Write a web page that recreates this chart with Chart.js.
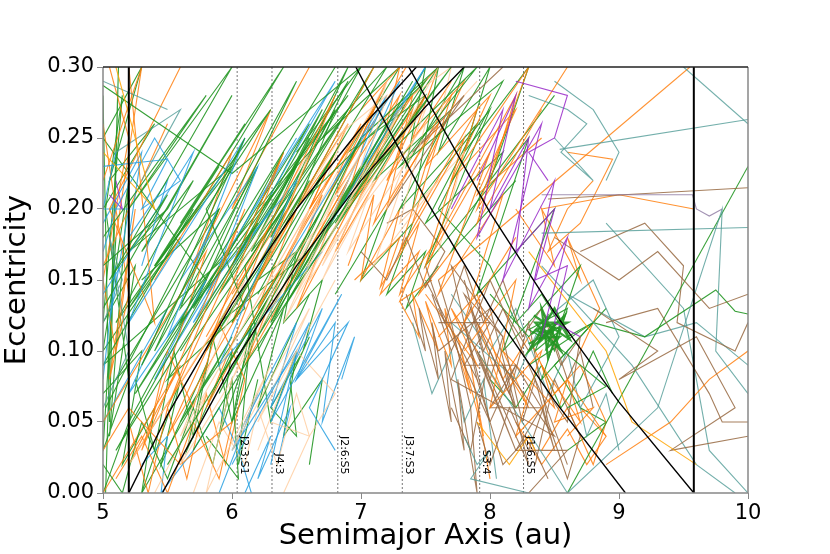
<!DOCTYPE html>
<html><head><meta charset="utf-8">
<script src="https://cdn.jsdelivr.net/npm/chart.js@4.4.0/dist/chart.umd.min.js"></script>
<style>html,body{margin:0;padding:0;background:#fff}#wrap{width:830px;height:554px}</style>
</head><body><div id="wrap"><canvas id="c"></canvas></div>
<script>
// ---- data ----
const xTicks = [5, 6, 7, 8, 9, 10];
const yTicks = [0, 0.05, 0.10, 0.15, 0.20, 0.25, 0.30];
const resNames = ['J2:3:S1', 'J4:3', 'J2:6:S5', 'J3:7:S3', 'S3:4', 'J1:6:S5'];
const resA = [6.04, 6.31, 6.82, 7.32, 7.92, 8.26];
const planetA = [5.2, 9.58];
const qJup = [[5.2,0],[5.5,0.055],[6,0.133],[6.5,0.2],[7,0.257],[7.43,0.3]];
const qJup2 = [[5.46,0],[6,0.09],[6.5,0.16],[7,0.22],[7.5,0.272],[7.8,0.3]];
const QSat = [[6.96,0.3],[7.5,0.207],[8,0.131],[8.5,0.065],[9.05,0]];
const QSat2 = [[7.37,0.3],[8,0.1975],[8.5,0.127],[9,0.064],[9.58,0]];

const green1 = [[5.02,0.06],[6.1,0.25],[5.3,0.09],[6.5,0.29],[5.6,0.12],[6.2,0.19],[5.1,0.03],[5.9,0.16],[5.25,0.07],[6.8,0.3]];
const green2 = [[5.5,0.02],[6.3,0.14],[5.9,0.07],[7.0,0.25],[6.3,0.12],[7.4,0.29],[6.7,0.18],[7.7,0.3],[6.9,0.2],[6.1,0.09],[5.7,0.03]];
const green3 = [[5.0,0.18],[5.8,0.28],[5.2,0.2],[6.0,0.3],[5.05,0.15],[5.5,0.21],[5.0,0.13]];
const green4 = [[5.0,0.287],[6.0,0.225],[6.6,0.27],[7.0,0.3]];
const green5 = [[6.2,0.2],[6.9,0.28],[6.4,0.22],[7.2,0.3],[6.6,0.21],[7.5,0.29],[7.0,0.22],[7.9,0.3],[7.3,0.23],[8.1,0.29],[7.6,0.2]];
const green6 = [[8.0,0.14],[8.3,0.11],[8.45,0.125],[8.35,0.1],[8.55,0.115],[8.4,0.12],[8.5,0.1],[8.6,0.13],[8.3,0.115],[8.5,0.105],[8.7,0.09],[8.9,0.075],[8.6,0.06]];
const green6b = [[8.32,0.112],[8.42,0.118],[8.38,0.106],[8.48,0.114],[8.44,0.102],[8.54,0.11],[8.4,0.109],[8.52,0.12],[8.36,0.115],[8.46,0.108],[8.5,0.116],[8.41,0.113]];
const green6c = [[8.3,0.105],[8.6,0.12],[8.35,0.12],[8.55,0.1],[8.4,0.13],[8.45,0.095],[8.58,0.125],[8.3,0.1],[8.5,0.13],[8.62,0.108],[8.34,0.125]];
const green7 = [[5.0,0.02],[5.15,0.0],[5.3,0.05],[5.5,0.01],[5.7,0.06],[5.85,0.02],[6.0,0.08],[6.05,0.01],[5.8,0.04]];
const green8 = [[8.6,0.0],[10.0,0.23]];
const green10 = [[5.0,0.16],[5.5,0.2],[5.2,0.17],[6.0,0.23],[5.4,0.16],[6.3,0.27],[5.8,0.2],[6.1,0.13],[5.5,0.08],[6.4,0.2],[5.9,0.12],[6.6,0.17],[6.2,0.1]];
const green11 = [[8.3,0.09],[8.8,0.12],[9.2,0.11],[9.75,0.143],[9.9,0.128],[10,0.126]];
const green13 = [[7.0,0.25],[7.6,0.3],[7.4,0.2],[8.0,0.27],[7.5,0.16],[8.3,0.25],[7.9,0.14],[8.5,0.2],[8.1,0.1],[8.7,0.16],[8.4,0.08],[8.9,0.13]];
const green14 = [[5.6,0.1],[6.5,0.23],[5.9,0.14],[6.9,0.27],[6.1,0.16],[6.3,0.05],[6.5,0.1],[6.4,0.04],[6.7,0.08],[6.6,0.02]];
const green15 = [[5.3,0.15],[5.9,0.2],[5.6,0.13],[6.4,0.22],[6.0,0.17],[5.0,0.09],[5.7,0.2]];
const green16 = [[5.02,0.0],[5.12,0.3],[5.05,0.05],[5.0,0.28]];
const greenA = [[5.1,0.08],[5.9,0.2],[5.4,0.1],[6.2,0.23],[5.7,0.13],[6.6,0.26],[6.0,0.16],[6.9,0.29],[6.3,0.18],[7.1,0.3],[6.5,0.2],[5.8,0.1],[6.6,0.22],[6.0,0.12],[6.8,0.24],[6.2,0.14]];
const greenB = [[5.3,0.0],[6.0,0.11],[5.6,0.05],[6.4,0.16],[5.9,0.08],[6.7,0.2],[6.2,0.11],[7.0,0.23],[6.5,0.15],[7.3,0.27],[6.8,0.19],[7.6,0.3],[7.1,0.23],[6.4,0.13],[7.2,0.26]];
const greenC = [[5.0,0.1],[5.6,0.18],[5.2,0.13],[5.9,0.23],[5.4,0.16],[6.1,0.26],[5.6,0.19],[6.4,0.3],[5.8,0.21],[5.1,0.12],[5.7,0.22],[5.3,0.17],[6.0,0.28],[5.5,0.2]];
const greenD = [[6.5,0.24],[7.0,0.3],[6.7,0.25],[7.3,0.3],[6.9,0.24],[7.5,0.28],[7.1,0.22],[7.7,0.27],[7.3,0.2],[7.9,0.26],[7.5,0.19],[8.1,0.24],[7.7,0.17],[8.2,0.22]];
const greenE = [[5.0,0.2],[5.4,0.26],[5.05,0.22],[5.3,0.3],[5.0,0.25],[5.8,0.15],[5.2,0.05],[5.0,0.0]];
const greenF = [[5.0,0.07],[5.3,0.1],[5.15,0.02],[5.4,0.06],[5.3,0.0],[5.6,0.08],[5.45,0.02],[5.8,0.09],[5.65,0.03],[6.0,0.1],[5.9,0.04],[6.2,0.12],[6.0,0.05],[6.4,0.13],[6.2,0.06],[6.6,0.14]];
const greenG = [[6.2,0.15],[6.5,0.17],[6.4,0.12],[6.7,0.15],[6.55,0.1],[6.3,0.06],[6.5,0.04],[6.45,0.08],[6.6,0.11]];
const greenH = [[7.6,0.2],[8.0,0.16],[8.2,0.12],[8.4,0.14],[8.6,0.11],[8.8,0.12],[8.5,0.09],[8.7,0.06],[8.9,0.05],[8.6,0.03]];
const greenL = [[5.0,0.1],[5.2,0.22],[5.05,0.04],[5.25,0.16],[5.0,0.12],[5.15,0.28],[5.02,0.2],[5.2,0.08],[5.0,0.03],[5.1,0.18]];
const greenB2 = [[5.25,0.08],[5.4,0.03],[5.55,0.1],[5.7,0.04],[5.85,0.11],[6.0,0.05],[6.15,0.12],[6.05,0.02],[6.2,0.08]];
const greenC1 = [[5.8,0.14],[6.4,0.24],[6.0,0.16],[6.7,0.27],[6.2,0.18],[6.9,0.3],[6.4,0.2],[6.15,0.17],[6.6,0.25],[6.3,0.19],[6.8,0.27],[6.5,0.2]];
const greenC5 = [[6.8,0.14],[7.2,0.2],[7.0,0.15],[7.4,0.19],[7.2,0.14],[7.5,0.17],[7.35,0.13],[7.6,0.16]];
const greenT2 = [[7.2,0.25],[7.5,0.3],[7.35,0.23],[7.8,0.3],[7.6,0.24],[8.0,0.3],[7.8,0.24],[8.3,0.3],[8.0,0.22],[8.5,0.28]];
const greenR5 = [[8.0,0.08],[8.2,0.06],[8.4,0.09],[8.55,0.06],[8.7,0.08],[8.8,0.1],[8.95,0.07]];

const orange1 = [[5.0,0.05],[5.8,0.17],[5.3,0.03],[6.1,0.2],[5.5,0.06],[6.4,0.24],[5.8,0.1],[6.8,0.28],[6.2,0.15],[7.1,0.3]];
const orange2 = [[6.9,0.2],[7.4,0.27],[7.1,0.19],[7.6,0.26],[7.3,0.17],[7.8,0.25],[7.5,0.16],[8.0,0.24],[7.6,0.14],[8.1,0.21],[7.8,0.12],[8.2,0.18]];
const orange3 = [[7.8,0.1],[8.2,0.15],[8.0,0.06],[8.4,0.1],[8.2,0.04],[8.6,0.08],[8.5,0.05],[8.8,0.06],[8.6,0.04]];
const orange4 = [[7.6,0.15],[9.55,0.3]];
const orange5 = [[8.6,0.24],[8.95,0.235],[8.7,0.19],[8.45,0.17],[8.6,0.2],[8.8,0.22]];
const orange6 = [[8.9,0.02],[9.4,0.05],[9.7,0.08],[10,0.1]];
const orange7 = [[5.1,0.01],[5.3,0.04],[5.5,0.0],[5.7,0.05],[5.9,0.01],[6.0,0.05],[5.6,0.02],[5.2,0.06],[5.0,0.03]];
const orange8 = [[5.2,0.3],[5.4,0.12],[5.05,0.2],[5.6,0.3]];
const orange9 = [[7.7,0.22],[8.3,0.3],[7.9,0.2],[8.6,0.3]];
const orangeA = [[5.0,0.0],[5.6,0.09],[5.2,0.02],[5.9,0.12],[5.5,0.04],[6.2,0.15],[5.8,0.06],[6.5,0.18],[6.1,0.09],[6.9,0.22],[6.5,0.13],[7.2,0.25],[6.8,0.17],[7.5,0.28]];
const orangeB = [[6.6,0.2],[7.1,0.27],[6.9,0.21],[7.4,0.28],[7.2,0.2],[7.7,0.28],[7.4,0.19],[7.9,0.27],[7.6,0.18],[8.2,0.28],[7.9,0.19],[8.4,0.27]];
const orangeC = [[7.5,0.14],[7.9,0.09],[7.7,0.13],[8.1,0.07],[7.9,0.12],[8.3,0.06],[8.1,0.1],[8.5,0.06],[8.4,0.09],[8.7,0.05],[8.6,0.08],[8.9,0.04]];
const orangeD = [[5.0,0.16],[5.5,0.26],[5.1,0.18],[5.3,0.3],[5.0,0.22]];
const orangeE = [[5.4,0.15],[6.0,0.24],[5.7,0.16],[6.3,0.27],[6.0,0.2],[6.6,0.3]];
const orangeL = [[5.0,0.26],[5.2,0.14],[5.05,0.08],[5.25,0.2],[5.1,0.1],[5.0,0.15],[5.2,0.25],[5.05,0.3]];
const orangeB1 = [[5.2,0.05],[5.35,0.0],[5.5,0.06],[5.65,0.01],[5.8,0.07],[5.95,0.02],[6.1,0.08],[5.9,0.12],[5.7,0.06],[5.5,0.1],[5.35,0.04]];
const orangeC2 = [[6.0,0.14],[6.5,0.21],[6.2,0.16],[6.8,0.24],[6.5,0.18],[7.0,0.26],[6.7,0.2],[7.2,0.29],[6.9,0.23],[7.35,0.3]];
const orangeC6 = [[6.95,0.15],[7.3,0.18],[7.15,0.14],[7.45,0.17],[7.3,0.135],[7.55,0.15]];
const orangeT1 = [[7.0,0.27],[7.3,0.3],[7.2,0.26],[7.6,0.3],[7.4,0.25],[7.8,0.29],[7.5,0.23],[8.0,0.28],[7.7,0.22],[8.2,0.27],[7.9,0.21],[8.4,0.25]];
const orangeR3 = [[7.6,0.11],[7.9,0.14],[8.1,0.08],[8.3,0.11],[8.5,0.07],[8.7,0.09],[8.9,0.05],[8.8,0.02],[8.6,0.06],[8.4,0.03]];
const orangeR6 = [[8.2,0.2],[8.5,0.16],[8.4,0.2],[8.7,0.15],[8.6,0.18],[8.85,0.13],[8.7,0.1]];
const orangeF4 = [[8.4,0.2],[9.0,0.21],[9.58,0.2]];
const orangeL1 = [[7.3,0.135],[7.45,0.11],[7.4,0.14],[7.6,0.1],[7.5,0.135],[7.7,0.09],[7.65,0.13],[7.85,0.07],[7.75,0.11],[7.95,0.04],[7.85,0.09],[8.0,0.01]];
const orangeM = [[6.9,0.16],[7.1,0.21],[7.0,0.15],[7.3,0.2],[7.15,0.145],[7.45,0.19],[7.3,0.14],[7.6,0.18],[7.45,0.14],[7.7,0.17]];
const orangeU1 = [[6.4,0.19],[6.9,0.26],[6.6,0.2],[7.1,0.27],[6.8,0.21],[7.3,0.28],[7.0,0.21],[7.5,0.28],[7.2,0.22],[7.7,0.29]];
const orangeU2 = [[5.8,0.11],[6.3,0.19],[6.0,0.12],[6.5,0.2],[6.2,0.13],[6.7,0.21],[6.4,0.14],[6.9,0.22]];
const orangeLR = [[8.2,0.05],[8.4,0.02],[8.6,0.045],[8.75,0.02],[8.9,0.04],[8.7,0.06]];
const gold1 = [[5.1,0.3],[5.4,0.2],[5.0,0.24]];
const gold2 = [[8.3,0.17],[8.9,0.1],[9.1,0.05],[9.6,0.02]];
const gold3 = [[7.9,0.05],[8.15,0.02],[8.3,0.04],[8.35,0.03]];

const peach1 = [[5.2,0.02],[6.1,0.15],[5.6,0.04],[6.6,0.2],[6.0,0.08],[7.0,0.24],[6.4,0.12],[7.3,0.27],[6.7,0.15],[7.6,0.3]];
const peach2 = [[6.3,0.05],[6.6,0.04],[6.8,0.07],[6.5,0.1],[6.2,0.03]];
const peach3 = [[6.8,0.25],[7.2,0.28],[7.0,0.22],[7.5,0.27],[7.2,0.2]];
const peachA = [[5.4,0.0],[5.8,0.07],[5.6,0.02],[6.0,0.08],[5.8,0.0],[6.3,0.09],[6.0,0.03],[6.6,0.13],[6.2,0.05],[6.8,0.15]];
const peachB = [[6.0,0.15],[6.6,0.24],[6.3,0.17],[6.9,0.26],[6.6,0.19],[7.2,0.29],[6.9,0.2]];
const peachC = [[7.0,0.2],[7.5,0.26],[7.3,0.19],[7.8,0.24],[7.6,0.17]];
const peachB3 = [[5.7,0.0],[5.9,0.05],[6.1,0.02],[6.2,0.06],[6.35,0.02],[6.5,0.07],[6.6,0.04],[6.4,0.0]];
const peachC4 = [[6.3,0.15],[6.8,0.2],[6.6,0.15],[7.1,0.22],[6.9,0.17],[7.4,0.24],[7.1,0.16],[7.6,0.22]];
const peachT3 = [[7.4,0.28],[7.7,0.3],[7.6,0.26],[7.9,0.29]];
const peachU = [[6.1,0.12],[6.6,0.2],[6.3,0.13],[6.8,0.21],[6.5,0.14],[7.0,0.22],[6.7,0.16],[7.2,0.24]];

const blue1 = [[6.0,0.02],[6.6,0.12],[6.3,0.05],[6.85,0.14],[6.5,0.08],[6.9,0.12],[6.6,0.06],[6.8,0.03]];
const blue2 = [[5.0,0.23],[5.5,0.235],[5.3,0.2],[5.6,0.22],[5.4,0.25],[5.1,0.2],[5.0,0.17]];
const blue3 = [[5.0,0.14],[5.7,0.24],[5.2,0.12],[6.1,0.25],[5.5,0.11],[6.5,0.22],[5.9,0.09],[6.7,0.17]];
const blue4 = [[6.4,0.16],[7.2,0.28],[6.7,0.18],[7.5,0.3],[6.9,0.21]];
const blue5 = [[5.9,0.0],[6.2,0.07],[6.0,0.03],[6.5,0.1],[6.3,0.02]];
const blueA = [[6.1,0.05],[6.5,0.12],[6.3,0.06],[6.7,0.13],[6.5,0.08],[6.8,0.12],[6.7,0.05],[6.95,0.11],[6.85,0.08]];
const blueB = [[5.0,0.05],[5.5,0.13],[5.2,0.07],[5.8,0.15],[5.4,0.08],[6.0,0.17],[5.7,0.12],[6.3,0.2]];
const blueC = [[5.0,0.19],[5.3,0.24],[5.2,0.18],[5.5,0.22],[5.3,0.16]];
const blueD = [[6.8,0.22],[7.3,0.29],[7.0,0.23],[7.5,0.3]];
const blueE = [[6.1,0.0],[6.3,0.04],[6.2,0.01],[6.45,0.06],[6.35,0.02]];
const blueL = [[5.0,0.08],[5.1,0.16],[5.05,0.12],[5.2,0.2],[5.0,0.2],[5.1,0.24]];
const blueB4 = [[5.3,0.02],[5.5,0.04],[5.45,0.0],[5.7,0.03],[5.9,0.06],[6.05,0.03],[6.15,0.0]];
const blueC3 = [[5.6,0.15],[6.2,0.23],[5.9,0.16],[6.5,0.25],[6.1,0.19],[6.8,0.29],[6.3,0.21]];

const brown1 = [[7.6,0.13],[8.0,0.05],[7.8,0.12],[8.2,0.03],[7.9,0.1],[8.3,0.02],[8.1,0.09],[8.5,0.04],[7.7,0.08],[8.0,0.15],[8.4,0.07],[8.6,0.02]];
const brown2 = [[7.5,0.15],[7.9,0.08],[7.7,0.16],[8.1,0.11],[7.8,0.14],[8.2,0.06],[8.0,0.13],[7.6,0.1]];
const brown3 = [[8.45,0.207],[10,0.215]];
const brown4 = [[8.8,0.13],[9.3,0.1],[9.0,0.08],[9.6,0.11],[9.9,0.06],[9.4,0.03],[10,0.04]];
const brown5 = [[8.5,0.18],[9.0,0.15],[9.3,0.17],[9.7,0.13],[10,0.14]];
const brown7 = [[7.2,0.2],[7.8,0.28],[7.4,0.24],[8.1,0.3]];
const brownA = [[7.55,0.14],[7.7,0.1],[7.85,0.13],[8.0,0.08],[8.1,0.11],[8.25,0.05],[8.35,0.08],[8.5,0.03],[8.4,0.06],[8.2,0.09],[8.0,0.05],[7.9,0.08],[8.1,0.02],[8.3,0.04],[8.45,0.01]];
const brownB = [[7.6,0.12],[8.0,0.12],[7.8,0.09],[8.2,0.09],[8.0,0.06],[8.4,0.06],[8.2,0.03],[8.6,0.03],[8.3,0.0]];
const brownC = [[7.8,0.15],[7.95,0.1],[8.1,0.13],[8.3,0.1],[8.45,0.12],[8.6,0.08],[8.7,0.1],[8.8,0.06]];
const brownD = [[8.9,0.12],[9.3,0.13],[9.7,0.07],[9.8,0.05],[10,0.05]];
const brownR1 = [[7.5,0.16],[7.65,0.12],[7.8,0.16],[7.95,0.12],[8.1,0.15],[8.25,0.11],[8.4,0.13],[8.55,0.09],[8.7,0.11],[8.6,0.05],[8.45,0.07],[8.3,0.03],[8.15,0.06],[8.0,0.02],[7.9,0.05]];
const brownR2 = [[7.7,0.06],[7.85,0.03],[8.0,0.1],[8.15,0.07],[8.3,0.12],[8.45,0.05],[8.6,0.01],[8.7,0.04],[8.5,0.08],[8.35,0.02]];
const brownF2 = [[8.7,0.17],[9.2,0.19],[9.5,0.16],[9.45,0.12],[9.9,0.1],[10,0.12]];
const brownL1 = [[7.35,0.14],[7.5,0.1],[7.45,0.13],[7.6,0.08],[7.55,0.12],[7.7,0.05],[7.65,0.1],[7.8,0.03],[7.75,0.08],[7.9,0.0],[7.85,0.06],[7.7,0.12],[7.6,0.15]];
const brownM = [[7.0,0.17],[7.2,0.15],[7.35,0.18],[7.5,0.145],[7.65,0.17],[7.4,0.2],[7.2,0.19]];

const teal1 = [[8.54,0.242],[10,0.263]];
const teal1b = [[9.5,0.3],[10,0.26]];
const teal2 = [[8.4,0.183],[10,0.187]];
const teal3 = [[8.3,0.28],[8.6,0.27],[8.75,0.26],[8.55,0.24],[8.8,0.22],[8.5,0.25]];
const teal4 = [[7.9,0.1],[8.6,0.0],[9.3,0.06],[9.8,0.2],[9.75,0.1],[10,0.07]];
const teal5 = [[7.8,0.04],[7.9,0.02],[8.0,0.03],[7.85,0.01],[8.3,0.0]];
const teal6 = [[5.0,0.29],[5.5,0.27],[5.3,0.278]];
const teal7 = [[8.4,0.16],[9.1,0.09],[9.6,0.02],[9.9,0.0]];
const tealA = [[7.7,0.12],[8.2,0.08],[8.4,0.12],[8.8,0.15],[9.0,0.11],[8.7,0.06]];
const tealB = [[5.1,0.24],[5.6,0.27],[5.3,0.22]];
const tealC = [[8.5,0.29],[8.8,0.27],[9.0,0.24],[8.9,0.22]];
const tealL = [[5.0,0.12],[5.15,0.15],[5.05,0.18],[5.2,0.1],[5.0,0.06]];
const tealR4 = [[7.7,0.14],[8.0,0.1],[8.2,0.13],[8.45,0.07],[8.6,0.1],[8.75,0.04],[8.9,0.07],[9.0,0.03]];
const tealF1 = [[8.6,0.14],[9.2,0.11],[9.6,0.12],[10,0.09]];
const tealF3 = [[8.9,0.19],[9.5,0.13],[9.7,0.03],[10,0.0]];
const tealL1 = [[7.4,0.12],[7.55,0.07],[7.7,0.1],[7.8,0.05],[7.95,0.08],[8.05,0.01]];

const purple1 = [[7.7,0.2],[8.1,0.27],[7.9,0.18],[8.4,0.26],[8.1,0.15],[8.5,0.22],[8.3,0.13],[8.6,0.18],[8.4,0.11]];
const purple2 = [[8.2,0.29],[8.6,0.28],[8.5,0.25],[8.3,0.24],[8.45,0.22]];
const purple3 = [[7.9,0.22],[8.2,0.28],[8.0,0.2],[8.3,0.25],[8.2,0.17],[8.5,0.2],[8.35,0.15],[8.6,0.16],[8.5,0.12],[8.7,0.11]];
const lav1 = [[8.4,0.21],[9.57,0.21],[9.6,0.2],[9.7,0.195],[9.8,0.2]];
const purple4 = [[5.05,0.21],[5.15,0.2],[5.1,0.22]];

// ---- build ----
const pts = arr => arr.map(p => ({x: p[0], y: p[1]}));
const COL = {
  green: 'rgba(34,150,34,0.9)', orange: 'rgba(255,127,14,0.85)', gold: 'rgba(255,165,0,0.85)',
  peach: 'rgba(255,200,150,0.75)', blue: 'rgba(40,160,225,0.85)', brown: 'rgba(150,105,65,0.85)',
  teal: 'rgba(80,155,150,0.8)', purple: 'rgba(150,40,200,0.85)', lav: 'rgba(140,120,160,0.8)'
};
const traj = [
  ['green',[green1,green2,green3,green4,green5,green6,green6b,green6c,green7,green8,green10,green11,green13,green14,green15,green16,greenA,greenB,greenC,greenD,greenE,greenF,greenG,greenH,greenL,greenB2,greenC1,greenC5,greenT2,greenR5]],
  ['orange',[orange1,orange2,orange3,orange4,orange5,orange6,orange7,orange8,orange9,orangeA,orangeB,orangeC,orangeD,orangeE,orangeL,orangeB1,orangeC2,orangeC6,orangeT1,orangeR3,orangeR6,orangeF4,orangeL1,orangeM,orangeU1,orangeU2,orangeLR]],
  ['gold',[gold1,gold2,gold3]],
  ['peach',[peach1,peach2,peach3,peachA,peachB,peachC,peachB3,peachC4,peachT3,peachU]],
  ['blue',[blue1,blue2,blue3,blue4,blue5,blueA,blueB,blueC,blueD,blueE,blueL,blueB4,blueC3]],
  ['brown',[brown1,brown2,brown3,brown4,brown5,brown7,brownA,brownB,brownC,brownD,brownR1,brownR2,brownF2,brownL1,brownM]],
  ['teal',[teal1,teal1b,teal2,teal3,teal4,teal5,teal6,teal7,tealA,tealB,tealC,tealL,tealR4,tealF1,tealF3,tealL1]],
  ['purple',[purple1,purple2,purple3,purple4]],
  ['lav',[lav1]]
];
const blobSet = [green6b, green6c];
const datasets = [];
const black = (d, w) => ({data: pts(d), showLine: true, borderColor: '#000', borderWidth: w, pointRadius: 0, fill: false});
datasets.push(black(qJup, 1.4), black(qJup2, 1.4), black(QSat, 1.4), black(QSat2, 1.4));
planetA.forEach(a => datasets.push(black([[a,0],[a,0.3]], 2)));
const maxLen = Math.max(...traj.map(t => t[1].length));
for (let i = 0; i < maxLen; i++) {
  traj.forEach(([c, list]) => {
    const d = list[i];
    if (d) datasets.push({data: pts(d), showLine: true, borderColor: COL[c], borderWidth: blobSet.includes(d) ? 2.2 : 1.1, pointRadius: 0, fill: false});
  });
}
resA.forEach(a => datasets.push({data: pts([[a,0],[a,0.3]]), showLine: true, borderColor: '#777', borderDash: [2,2], borderWidth: 1, pointRadius: 0, fill: false}));

const FONT = 'DejaVu Sans';
const resLabelPlugin = {
  id: 'resLabels',
  afterDatasetsDraw(chart) {
    const {ctx, scales: {x, y}} = chart;
    ctx.save();
    ctx.font = '11px "' + FONT + '"';
    ctx.fillStyle = '#000';
    resNames.forEach((n, i) => {
      const px = x.getPixelForValue(resA[i]) + 1;
      const py = y.getPixelForValue(0.013);
      ctx.save();
      ctx.translate(px, py);
      ctx.rotate(Math.PI / 2);
      ctx.textAlign = 'right';
      ctx.textBaseline = 'bottom';
      ctx.fillText(n, 0, 0);
      ctx.restore();
    });
    const a = chart.chartArea;
    ctx.lineWidth = 1.5;
    ctx.strokeStyle = '#888';
    ctx.beginPath();
    ctx.moveTo(a.left, a.top); ctx.lineTo(a.left, a.bottom); ctx.lineTo(a.right, a.bottom); ctx.lineTo(a.right, a.top);
    ctx.stroke();
    ctx.strokeStyle = '#222';
    ctx.beginPath(); ctx.moveTo(a.left, a.top); ctx.lineTo(a.right, a.top); ctx.stroke();
    ctx.restore();
  }
};

new Chart(document.getElementById('c'), {
  type: 'scatter',
  data: {datasets},
  options: {
    responsive: true, maintainAspectRatio: false, animation: false,
    layout: {padding: {left: 0, right: 82, top: 67, bottom: 0}},
    plugins: {legend: {display: false}, tooltip: {enabled: false}},
    scales: {
      x: {
        type: 'linear', min: 5, max: 10,
        afterBuildTicks: s => { s.ticks = xTicks.map(v => ({value: v})); },
        afterFit: s => { s.height = 61; },
        ticks: {font: {family: FONT, size: 21}, color: '#000', padding: 2, maxRotation: 0},
        grid: {drawOnChartArea: false, tickLength: 6, color: '#888'},
        border: {display: false},
        title: {display: true, text: 'Semimajor Axis (au)', font: {family: FONT, size: 29}, color: '#000', padding: {top: 0, bottom: 0}}
      },
      y: {
        type: 'linear', min: 0, max: 0.3,
        afterBuildTicks: s => { s.ticks = yTicks.map(v => ({value: v})); },
        afterFit: s => { s.width = 103; },
        ticks: {font: {family: FONT, size: 21}, color: '#000', padding: 3, callback: v => Number(v).toFixed(2)},
        grid: {drawOnChartArea: false, tickLength: 6, color: '#888'},
        border: {display: false},
        title: {display: true, text: 'Eccentricity', font: {family: FONT, size: 29}, color: '#000', padding: {top: 0, bottom: 2}}
      }
    }
  },
  plugins: [resLabelPlugin]
});
</script></body></html>
